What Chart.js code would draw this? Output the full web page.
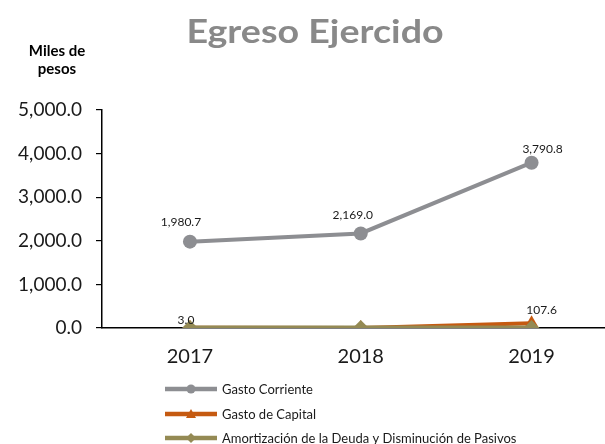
<!DOCTYPE html>
<html>
<head>
<meta charset="utf-8">
<script src="https://cdn.jsdelivr.net/npm/chart.js@4.4.1/dist/chart.umd.min.js"></script>
<style>
  html, body { margin: 0; padding: 0; background: #ffffff; overflow: hidden; }
  #wrap { position: relative; width: 605px; height: 444px; overflow: hidden; }
  canvas { display: block; }
</style>
</head>
<body>
<div id="wrap"><canvas id="c" width="613" height="444"></canvas></div>
<script>
// ---- Data ----
const categories = ["2017", "2018", "2019"];
const gastoCorriente = [1980.7, 2169.0, 3790.8];
const gastoCapital = [3.0, 0.0, 107.6];
const amortizacion = [0.0, 0.0, 0.0];
const corrienteLabels = ["1,980.7", "2,169.0", "3,790.8"];
const capitalLabels = ["3.0", "", "107.6"];
const yTicks = [0, 1000, 2000, 3000, 4000, 5000];
const seriesNames = ["Gasto Corriente", "Gasto de Capital", "Amortización de la Deuda y Disminución de Pasivos"];

const COL_GRAY = "#8d8e92";
const COL_ORANGE = "#c55a11";
const COL_OLIVE = "#948a54";
const FONT = "Lato, 'Open Sans', sans-serif";

function pts(arr) { return arr.map((v, i) => ({ x: i, y: v })); }

const fmt = v => v.toLocaleString("en-US", { minimumFractionDigits: 1, maximumFractionDigits: 1 });

const decorPlugin = {
  id: "decor",
  afterDraw(chart) {
    const ctx = chart.ctx;
    ctx.save();
    // Title (slightly widened like the original rendering)
    ctx.fillStyle = "#898989";
    ctx.font = "bold 33px " + FONT;
    ctx.textAlign = "center";
    ctx.textBaseline = "alphabetic";
    ctx.save();
    ctx.translate(315, 43);
    ctx.scale(1.14, 1);
    ctx.fillText("Egreso Ejercido", 0, 0);
    ctx.restore();
    // Axis unit
    ctx.fillStyle = "#000000";
    ctx.font = "bold 15px " + FONT;
    ctx.fillText("Miles de", 57, 56);
    ctx.fillText("pesos", 57, 74);

    // Data labels
    ctx.textBaseline = "middle";
    ctx.font = "12px " + FONT;
    ctx.fillStyle = "#1a1a1a";
    const dx0 = [-9, -8, 11];
    const dy0 = [-20, -18, -14];
    const m0 = chart.getDatasetMeta(0);
    m0.data.forEach((p, i) => {
      ctx.fillText(corrienteLabels[i], p.x + dx0[i], p.y + dy0[i]);
    });
    const dx1 = [-4, 0, 10];
    const dy1 = [-8, -8, -13];
    const m1 = chart.getDatasetMeta(1);
    m1.data.forEach((p, i) => {
      if (capitalLabels[i]) ctx.fillText(capitalLabels[i], p.x + dx1[i], p.y + dy1[i]);
    });

    // Legend
    const cols = [COL_GRAY, COL_ORANGE, COL_OLIVE];
    const styles = ["circle", "triangle", "rectRot"];
    const rows = [389, 414, 438];
    ctx.textAlign = "left";
    ctx.font = "13px " + FONT;
    rows.forEach((y, i) => {
      ctx.strokeStyle = cols[i];
      ctx.lineWidth = 4.5;
      ctx.beginPath();
      ctx.moveTo(165, y);
      ctx.lineTo(217, y);
      ctx.stroke();
      ctx.fillStyle = cols[i];
      ctx.beginPath();
      if (styles[i] === "circle") { ctx.arc(191, y, 4.5, 0, Math.PI * 2); }
      else if (styles[i] === "triangle") { ctx.moveTo(191, y - 5); ctx.lineTo(196, y + 4); ctx.lineTo(186, y + 4); ctx.closePath(); }
      else { ctx.moveTo(191, y - 5); ctx.lineTo(196, y); ctx.lineTo(191, y + 5); ctx.lineTo(186, y); ctx.closePath(); }
      ctx.fill();
      ctx.fillStyle = "#1a1a1a";
      ctx.fillText(seriesNames[i], 222, y + 1);
    });
    ctx.restore();
  }
};

new Chart(document.getElementById("c"), {
  type: "line",
  data: {
    datasets: [
      {
        label: seriesNames[0], data: pts(gastoCorriente),
        borderColor: COL_GRAY, backgroundColor: COL_GRAY, borderWidth: 4,
        pointStyle: "circle", pointRadius: 7, pointBackgroundColor: COL_GRAY, pointBorderWidth: 0,
        order: 3
      },
      {
        label: seriesNames[1], data: pts(gastoCapital),
        borderColor: COL_ORANGE, backgroundColor: COL_ORANGE, borderWidth: 4,
        pointStyle: "triangle", pointRadius: 8, pointBackgroundColor: COL_ORANGE, pointBorderWidth: 0,
        order: 2
      },
      {
        label: seriesNames[2], data: pts(amortizacion),
        borderColor: COL_OLIVE, backgroundColor: COL_OLIVE, borderWidth: 5,
        pointStyle: "rectRot", pointRadius: 8, pointBackgroundColor: COL_OLIVE, pointBorderWidth: 0,
        order: 1
      }
    ]
  },
  options: {
    responsive: false,
    animation: false,
    layout: { padding: { top: 110, right: 0, left: 0, bottom: 0 } },
    plugins: { legend: { display: false }, tooltip: { enabled: false }, title: { display: false } },
    scales: {
      x: {
        type: "linear",
        min: -0.515, max: 2.43,
        afterBuildTicks(s) { s.ticks = categories.map((c, i) => ({ value: i })); },
        afterFit(s) { s.height = 116; s.paddingLeft = 0; s.paddingRight = 0; },
        grid: { display: true, drawOnChartArea: false, drawTicks: false },
        border: { display: true, color: "#000000", width: 1.5 },
        ticks: {
          callback: v => categories[v],
          color: "#1a1a1a", font: { family: FONT, size: 20 }, padding: 17,
          maxRotation: 0
        }
      },
      y: {
        min: 0, max: 5000,
        afterBuildTicks(s) { s.ticks = yTicks.map(v => ({ value: v })); },
        afterFit(s) { s.width = 102; },
        grid: { display: true, drawOnChartArea: false, drawTicks: true, tickLength: 6, color: "#000000", lineWidth: 1.2 },
        border: { display: true, color: "#000000", width: 1.5 },
        ticks: {
          callback: v => fmt(v),
          color: "#1a1a1a", font: { family: FONT, size: 19 }, padding: 14
        }
      }
    }
  },
  plugins: [decorPlugin]
});
</script>
</body>
</html>
